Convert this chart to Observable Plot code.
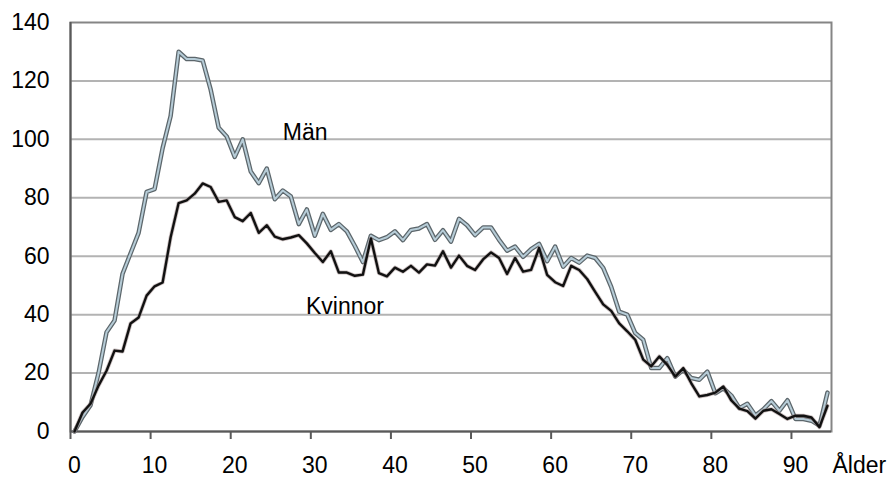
<!DOCTYPE html>
<html><head><meta charset="utf-8">
<script src="https://cdn.jsdelivr.net/npm/d3@7"></script>
<script src="https://cdn.jsdelivr.net/npm/@observablehq/plot@0.6"></script>
<style>
html,body{margin:0;padding:0;background:#fff;}
#chart{width:894px;height:479px;}
svg{display:block;}
</style></head><body><div id="chart"></div>
<script>
const ages = [0,1,2,3,4,5,6,7,8,9,10,11,12,13,14,15,16,17,18,19,20,21,22,23,24,25,26,27,28,29,30,31,32,33,34,35,36,37,38,39,40,41,42,43,44,45,46,47,48,49,50,51,52,53,54,55,56,57,58,59,60,61,62,63,64,65,66,67,68,69,70,71,72,73,74,75,76,77,78,79,80,81,82,83,84,85,86,87,88,89,90,91,92,93,94];
const man = [0,5,9,20,34,38,54,61,68,82,83,97,108,130,127.5,127.5,127,117,104,101,94,100,89,85,90,79.5,82.5,80.5,71,76,67,74.5,69,71,68.5,63.5,58,67,65.5,66.5,68.5,65.5,69,69.5,71,65.6,68.9,65,72.8,70.6,67.2,69.8,69.8,65.6,61.9,63.3,59.8,62.4,64.2,58.3,63.3,56.4,59.4,57.8,60.2,59.4,56,49.5,41,40,33.7,31.4,21.7,21.7,25.1,18.8,21.1,18.3,17.7,20.5,13.1,14.8,12.3,8,9.5,5.5,7.6,10.4,7.1,10.7,4.3,4.3,3.7,2,13.3];
const kvinnor = [0,6.5,9.5,15.7,20.8,27.7,27.4,37,39,46.5,49.7,51,66.5,78.2,79.1,81.4,84.9,83.7,78.6,79.1,73.4,72,74.8,68,70.6,66.7,65.8,66.4,67.2,64.4,61.1,58,61.7,54.4,54.4,53.3,53.7,66.1,54.2,53.1,56.1,54.7,56.7,54.4,57.2,56.8,61.7,56.1,60.2,56.7,55.3,58.9,61.3,59.4,53.9,59.4,54.7,55.3,62.8,53.6,51.1,49.8,56.7,55.3,52.2,47.8,43.5,41.3,37,34.3,31.4,24.6,22.3,25.7,22.8,18.8,21.7,16.5,12,12.5,13.3,15.4,10.6,7.8,7,4.4,7.1,7.6,6,4.3,5.4,5.4,4.8,1.5,8.8];
const xTicks = [0,10,20,30,40,50,60,70,80,90];
const yTicks = [0,20,40,60,80,100,120,140];
const seriesNames = ["Män","Kvinnor"];
const xTitle = "Ålder";

const toRows = vals => ages.map((a, i) => ({age: a, value: vals[i]}));
const manRows = toRows(man);
const kvRows = toRows(kvinnor);
const boundaries = xTicks.map(t => t - 0.5);
const font = '"Liberation Sans", Arial, sans-serif';

const plot = Plot.plot({
  width: 894, height: 479,
  marginLeft: 70, marginRight: 63, marginTop: 22, marginBottom: 48,
  style: {fontFamily: font, fontSize: "23px", color: "#000", background: "#fff", overflow: "visible"},
  x: {type: "linear", domain: [ages[0] - 0.5, ages[ages.length - 1] + 0.5], label: null},
  y: {domain: [yTicks[0], yTicks[yTicks.length - 1]], label: null},
  marks: [
    Plot.ruleY(yTicks.slice(1, -1), {stroke: "#b3b3b3", strokeWidth: 2}),
    Plot.frame({stroke: "#858585", strokeWidth: 2}),
    Plot.ruleX([ages[0] - 0.5], {stroke: "#595959", strokeWidth: 2}),
    Plot.ruleY([yTicks[0]], {stroke: "#595959", strokeWidth: 2}),
    Plot.axisY({ticks: yTicks, tickSize: 0, tickPadding: 21, fontSize: 23, label: null, tickFormat: d => String(d)}),
    Plot.axisX({ticks: boundaries, tickSize: 8, tickFormat: () => "", label: null, stroke: "#595959", strokeWidth: 2}),
    Plot.axisX({ticks: xTicks, tickSize: 0, tickPadding: 25, fontSize: 23, label: null, tickFormat: d => String(d)}),
    Plot.line(manRows, {x: "age", y: "value", stroke: "#5c666b", strokeWidth: 4.5}),
    Plot.line(manRows, {x: "age", y: "value", stroke: "#b6ccd7", strokeWidth: 2}),
    Plot.line(kvRows, {x: "age", y: "value", stroke: "#a08c8c", strokeWidth: 4, strokeOpacity: 0.55}),
    Plot.line(kvRows, {x: "age", y: "value", stroke: "#111", strokeWidth: 2.4}),
    Plot.text([seriesNames[0]], {x: 26, y: 102.4, text: d => d, textAnchor: "start", fontSize: 23, fill: "#000"}),
    Plot.text([seriesNames[1]], {x: 28.9, y: 42.9, text: d => d, textAnchor: "start", fontSize: 23, fill: "#000"}),
    Plot.text([xTitle], {frameAnchor: "bottom-right", text: d => d, textAnchor: "start", lineAnchor: "top", dx: 1, dy: 25, fontSize: 23, fill: "#000"})
  ]
});
document.getElementById("chart").appendChild(plot);
</script>
</body></html>
